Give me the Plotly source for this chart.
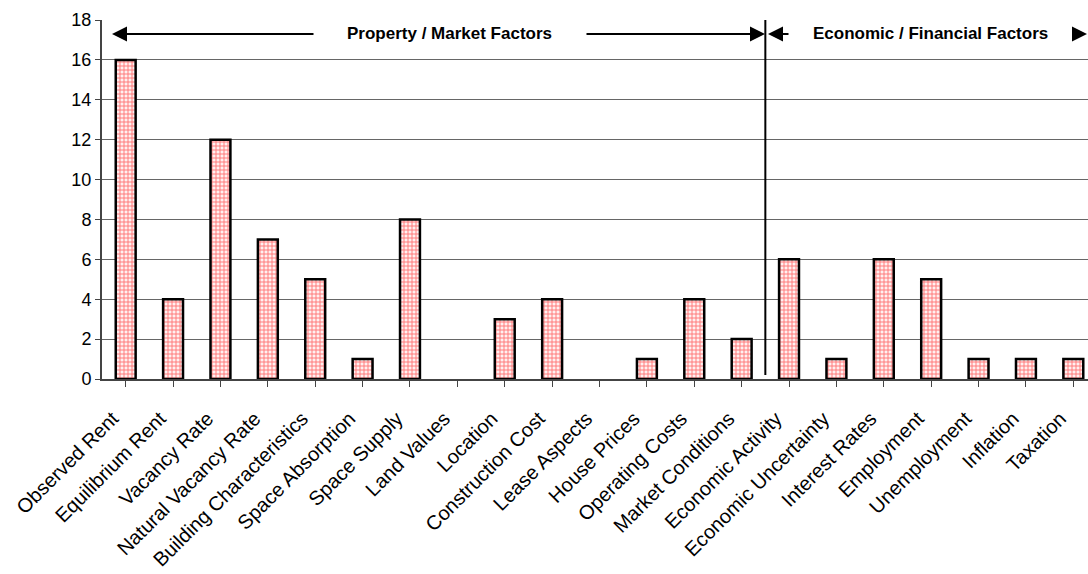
import plotly.graph_objects as go

categories = ["Observed Rent", "Equilibrium Rent", "Vacancy Rate", "Natural Vacancy Rate",
              "Building Characteristics", "Space Absorption", "Space Supply", "Land Values",
              "Location", "Construction Cost", "Lease Aspects", "House Prices",
              "Operating Costs", "Market Conditions", "Economic Activity",
              "Economic Uncertainty", "Interest Rates", "Employment", "Unemployment",
              "Inflation", "Taxation"]
counts = [16, 4, 12, 7, 5, 1, 8, 0, 3, 4, 0, 1, 4, 2, 6, 1, 6, 5, 1, 1, 1]
y_ticks = list(range(0, 19, 2))
group_labels = ["Property / Market Factors", "Economic / Financial Factors"]
split_index = 13.5

L, T = 102, 20
W, H = 1088, 574
pw = W - L
ph = 379 - T

def px(x):
    return (x - L) / pw

def py(y):
    return (379 - y) / ph

fig = go.Figure()
fig.add_trace(go.Bar(
    x=list(range(len(categories))), y=counts, width=0.42,
    marker=dict(color="white",
                line=dict(color="black", width=[2.5 if c > 0 else 0 for c in counts]),
                pattern=dict(shape="+", fgcolor="#ff0000", bgcolor="#fff0f0", size=4, solidity=0.42)),
))

annotations = []
ay_ = 34
for head, tail in [(112, 315), (765, 585), (768, 790), (1087, 1072)]:
    annotations.append(dict(x=px(head), y=py(ay_), xref="paper", yref="paper",
                            ax=tail - head, ay=0, axref="pixel", ayref="pixel",
                            showarrow=True, arrowhead=2, arrowsize=1.5, arrowwidth=2,
                            arrowcolor="black", text=""))
for cx, lbl in [(449, group_labels[0]), (930, group_labels[1])]:
    annotations.append(dict(x=px(cx), y=py(ay_), xref="paper", yref="paper", text="<b>" + lbl + "</b>",
                            xanchor="center", yanchor="middle", showarrow=False,
                            font=dict(family="Liberation Sans, Arial", size=17, color="black")))

last = len(categories) - 1 + 0.5 - (1097 - 1088) / 47.3

fig.update_layout(
    width=W, height=H, margin=dict(l=L, r=0, t=T, b=H - 379, autoexpand=False),
    plot_bgcolor="white", paper_bgcolor="white", showlegend=False,
    font=dict(family="Liberation Sans, Arial", color="black"),
    annotations=annotations,
    shapes=[dict(type="line", xref="x", yref="paper", x0=split_index, x1=split_index,
                 y0=py(375), y1=1, line=dict(color="black", width=2))],
    xaxis=dict(range=[-0.5, last], tickmode="array", tickvals=list(range(len(categories))),
               ticktext=categories, tickangle=-45, ticks="outside", ticklen=6, tickson="boundaries",
               tickcolor="#444", showline=True, linecolor="#444", linewidth=2, showgrid=False,
               ticklabelstandoff=12, ticklabelshift=-13, automargin=False,
               tickfont=dict(size=20, family="Liberation Sans, Arial"), fixedrange=True),
    yaxis=dict(range=[0, 18], tickvals=y_ticks, ticks="outside", ticklen=5, tickcolor="#444",
               showline=True, linecolor="#444", linewidth=2, showgrid=True, gridcolor="#666",
               gridwidth=1, zeroline=False, automargin=False,
               tickfont=dict(size=18, family="Liberation Sans, Arial")),
    bargap=0.58,
)

fig.write_html("out.html")
